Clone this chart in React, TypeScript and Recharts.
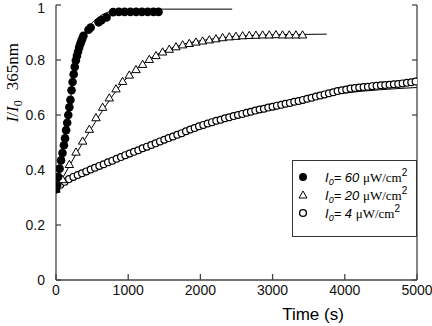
import React from 'react';
import { ComposedChart, Scatter, Line, XAxis, YAxis, Legend } from 'recharts';

const xTicks = [0, 1000, 2000, 3000, 4000, 5000];
const yTicks = [0, 0.2, 0.4, 0.6, 0.8, 1];
const yTickLabels = ['0', '0.2', '0.4', '0.6', '0.8', '1'];

// I0 = 60 µW/cm2 (filled circles)
const t60 = [0, 15, 30, 50, 70, 90, 110, 125, 140, 155, 170, 185, 200, 215, 230, 245, 260, 275, 290, 305, 320, 335, 350, 365, 380, 450, 480, 590, 630, 700, 790, 870, 950, 1030, 1110, 1190, 1270, 1350, 1420];
const v60 = [0.33, 0.345, 0.375, 0.405, 0.435, 0.462, 0.49, 0.515, 0.545, 0.572, 0.6, 0.628, 0.655, 0.69, 0.72, 0.748, 0.775, 0.798, 0.815, 0.83, 0.845, 0.857, 0.868, 0.878, 0.888, 0.91, 0.918, 0.937, 0.945, 0.955, 0.974, 0.975, 0.975, 0.975, 0.975, 0.975, 0.975, 0.975, 0.975];
const fit60T = [0, 50, 100, 150, 200, 250, 300, 350, 400, 500, 600, 700, 800, 1000, 1500, 2440];
const fit60V = [0.33, 0.4, 0.475, 0.56, 0.655, 0.745, 0.815, 0.865, 0.9, 0.935, 0.958, 0.972, 0.98, 0.984, 0.985, 0.985];

// I0 = 20 µW/cm2 (open triangles)
const t20 = [0, 92, 185, 277, 369, 462, 554, 646, 738, 831, 923, 1015, 1108, 1200, 1292, 1385, 1477, 1569, 1662, 1754, 1846, 1938, 2031, 2123, 2215, 2308, 2400, 2492, 2585, 2677, 2769, 2862, 2954, 3046, 3138, 3231, 3323, 3415];
const v20 = [0.33, 0.365, 0.42, 0.465, 0.505, 0.548, 0.59, 0.628, 0.662, 0.695, 0.722, 0.745, 0.765, 0.784, 0.802, 0.816, 0.829, 0.839, 0.848, 0.855, 0.86, 0.865, 0.869, 0.873, 0.877, 0.881, 0.884, 0.886, 0.888, 0.889, 0.89, 0.891, 0.891, 0.892, 0.891, 0.891, 0.891, 0.891];
const fit20T = [0, 100, 200, 300, 400, 500, 600, 700, 800, 900, 1000, 1200, 1400, 1600, 1800, 2000, 2200, 2400, 2700, 3000, 3400, 3750];
const fit20V = [0.33, 0.375, 0.422, 0.468, 0.512, 0.555, 0.598, 0.638, 0.676, 0.71, 0.74, 0.785, 0.82, 0.843, 0.86, 0.87, 0.878, 0.884, 0.889, 0.892, 0.893, 0.894];

// I0 = 4 µW/cm2 (open circles)
const t4 = [0, 60, 120, 180, 240, 300, 360, 420, 480, 540, 600, 660, 720, 780, 840, 900, 960, 1020, 1080, 1140, 1200, 1260, 1320, 1380, 1440, 1500, 1560, 1620, 1680, 1740, 1800, 1860, 1920, 1980, 2040, 2100, 2160, 2220, 2280, 2340, 2400, 2460, 2520, 2580, 2640, 2700, 2760, 2820, 2880, 2940, 3000, 3060, 3120, 3180, 3240, 3300, 3360, 3420, 3480, 3540, 3600, 3660, 3720, 3780, 3840, 3900, 3960, 4020, 4080, 4140, 4200, 4260, 4320, 4380, 4440, 4500, 4560, 4620, 4680, 4740, 4800, 4860, 4920, 4980];
const v4 = [0.33, 0.346, 0.357, 0.367, 0.375, 0.382, 0.388, 0.395, 0.402, 0.408, 0.415, 0.421, 0.428, 0.434, 0.441, 0.447, 0.454, 0.46, 0.466, 0.472, 0.479, 0.485, 0.491, 0.497, 0.504, 0.51, 0.516, 0.522, 0.528, 0.534, 0.541, 0.547, 0.553, 0.559, 0.564, 0.569, 0.574, 0.579, 0.583, 0.588, 0.592, 0.596, 0.6, 0.604, 0.608, 0.612, 0.616, 0.62, 0.623, 0.627, 0.63, 0.634, 0.637, 0.641, 0.644, 0.648, 0.651, 0.655, 0.659, 0.663, 0.667, 0.671, 0.675, 0.679, 0.683, 0.687, 0.69, 0.693, 0.696, 0.698, 0.7, 0.702, 0.703, 0.705, 0.706, 0.708, 0.709, 0.71, 0.712, 0.713, 0.715, 0.717, 0.719, 0.722];
const fit4T = [0, 200, 500, 1000, 1500, 2000, 2500, 3000, 3500, 4000, 4500, 5000];
const fit4V = [0.33, 0.37, 0.405, 0.458, 0.51, 0.557, 0.598, 0.632, 0.66, 0.68, 0.692, 0.7];

const zip = (ts: number[], vs: number[]) => ts.map((t, i) => ({ t, v: vs[i] }));
const d60 = zip(t60, v60);
const d20 = zip(t20, v20);
const d4 = zip(t4, v4);
const f60 = zip(fit60T, fit60V);
const f20 = zip(fit20T, fit20V);
const f4 = zip(fit4T, fit4V);

const SANS = '"Liberation Sans", Arial, sans-serif';
const SERIF = '"Liberation Serif", "Times New Roman", serif';
const AXIS = '#444';
const tickStyle = { fontFamily: SANS, fontSize: 14, fill: '#111' };

const FilledDot = (p: any) => <circle cx={p.cx} cy={p.cy} r={4.3} fill="#000" />;
const OpenDot = (p: any) => <circle cx={p.cx} cy={p.cy} r={3.4} fill="#fff" stroke="#000" strokeWidth={1.2} />;
const Tri = (p: any) => (
  <polygon
    points={`${p.cx},${p.cy - 4.2} ${p.cx + 4.2},${p.cy + 3} ${p.cx - 4.2},${p.cy + 3}`}
    fill="#fff"
    stroke="#000"
    strokeWidth={1}
  />
);

const legendRows = [
  { label: '60', kind: 'filled' },
  { label: '20', kind: 'tri' },
  { label: '4', kind: 'open' },
];

const LegendBox = () => (
  <svg width={125} height={77} style={{ display: 'block' }}>
    <rect x={0.5} y={0.5} width={124} height={76} fill="#fff" stroke="#333" strokeWidth={1} />
    {legendRows.map((r, i) => {
      const cy = 17 + i * 18;
      const cx = 11;
      return (
        <g key={r.label}>
          {r.kind === 'filled' && <circle cx={cx} cy={cy} r={4} fill="#000" />}
          {r.kind === 'tri' && (
            <polygon points={`${cx},${cy - 4} ${cx + 4},${cy + 3} ${cx - 4},${cy + 3}`} fill="#fff" stroke="#000" />
          )}
          {r.kind === 'open' && <circle cx={cx} cy={cy} r={3.4} fill="#fff" stroke="#000" strokeWidth={1.4} />}
          <text x={33} y={cy + 4.5} fontSize={13} fill="#000">
            <tspan fontFamily={SANS} fontStyle="italic">I</tspan>
            <tspan fontFamily={SANS} fontStyle="italic" fontSize={9} dy={3}>0</tspan>
            <tspan fontFamily={SANS} fontStyle="italic" dy={-3}>{`= ${r.label} `}</tspan>
            <tspan fontFamily={SERIF}>μW/cm</tspan>
            <tspan fontFamily={SANS} fontSize={10} dy={-6}>2</tspan>
          </text>
        </g>
      );
    })}
  </svg>
);

const YLabel = () => (
  <text transform="translate(18,43) rotate(-90)" textAnchor="end" fontFamily={SERIF} fontSize={17} fill="#000">
    <tspan fontStyle="italic">I</tspan>
    <tspan>/</tspan>
    <tspan fontStyle="italic">I</tspan>
    <tspan fontSize={12} dy={4}>0</tspan>
    <tspan dy={-4} dx={10}>365nm</tspan>
  </text>
);

const XLabel = () => (
  <text x={313} y={320} textAnchor="middle" fontFamily={SANS} fontSize={17} fill="#000">
    Time (s)
  </text>
);

export default function App() {
  return (
    <div style={{ position: 'absolute', left: 0, top: 0, width: 432, height: 326, background: '#fff' }}>
      <ComposedChart width={432} height={326} margin={{ top: 5, right: 0, bottom: 0, left: 0 }}>
        <XAxis
          dataKey="t"
          type="number"
          domain={[0, 5000]}
          ticks={xTicks}
          allowDataOverflow
          height={46}
          tickSize={-6}
          tickMargin={11}
          tick={tickStyle}
          stroke={AXIS}
          strokeWidth={1.3}
          label={{ content: () => <XLabel /> }}
        />
        <XAxis
          xAxisId="top"
          orientation="top"
          type="number"
          domain={[0, 5000]}
          ticks={xTicks}
          allowDataOverflow
          height={0}
          tickSize={-6}
          tickFormatter={() => ''}
          stroke={AXIS}
          strokeWidth={1.3}
        />
        <YAxis
          dataKey="v"
          type="number"
          domain={[0, 1]}
          ticks={yTicks}
          allowDataOverflow
          width={56}
          tickSize={-5}
          tickMargin={16}
          tick={tickStyle}
          tickFormatter={(v: number) => yTickLabels[yTicks.indexOf(v)] ?? String(v)}
          stroke={AXIS}
          strokeWidth={1.3}
          label={{ content: () => <YLabel /> }}
        />
        <YAxis
          yAxisId="right"
          orientation="right"
          type="number"
          domain={[0, 1]}
          ticks={yTicks}
          allowDataOverflow
          width={15}
          tickSize={-5}
          tickFormatter={() => ''}
          stroke={AXIS}
          strokeWidth={1.3}
        />
        <Line data={f4} dataKey="v" type="monotone" stroke="#000" strokeWidth={1} dot={false} isAnimationActive={false} />
        <Line data={f20} dataKey="v" type="monotone" stroke="#000" strokeWidth={1} dot={false} isAnimationActive={false} />
        <Line data={f60} dataKey="v" type="monotone" stroke="#000" strokeWidth={1} dot={false} isAnimationActive={false} />
        <Scatter data={d4} shape={OpenDot} isAnimationActive={false} />
        <Scatter data={d20} shape={Tri} isAnimationActive={false} />
        <Scatter data={d60} shape={FilledDot} isAnimationActive={false} />
        <Legend
          content={<LegendBox />}
          layout="vertical"
          align="center"
          verticalAlign="middle"
          wrapperStyle={{ position: 'absolute', left: 292, top: 160, width: 125, height: 77 }}
        />
      </ComposedChart>
    </div>
  );
}
